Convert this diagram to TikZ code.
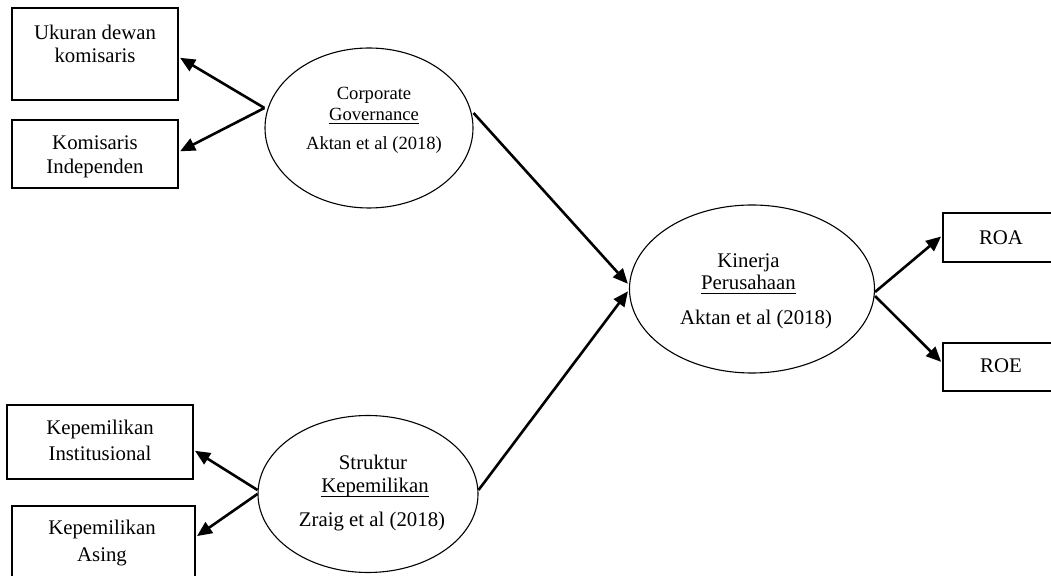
\documentclass[tikz,border=0pt]{standalone}
\usepackage{fontspec}
\setmainfont{Liberation Serif}
\usetikzlibrary{shapes.geometric,arrows.meta}
\begin{document}
\begin{tikzpicture}[x=0.5pt,y=-0.5pt,
  boxnode/.style={draw,line width=0.7pt,rectangle,inner sep=0pt},
  ovalnode/.style={draw,line width=0.55pt,ellipse,inner sep=0pt},
  txt/.style={anchor=base,inner sep=0pt,font=\fontsize{10.4}{12.5}\selectfont},
  smalltxt/.style={anchor=base,inner sep=0pt,font=\fontsize{9.3}{11}\selectfont},
  uline/.style={line width=0.5pt},
  arr/.style={line width=1.3pt,-{Triangle[length=7.5pt,width=6.5pt]},shorten >=0.8pt}]
\useasboundingbox (0,0) rectangle (1051,576);
\clip (0,0) rectangle (1051,576);
% boxes
\node[boxnode,minimum width=83pt,minimum height=46pt] (b1) at (95,54) {};
\node[boxnode,minimum width=83pt,minimum height=34pt] (b2) at (95,154) {};
\node[boxnode,minimum width=93pt,minimum height=37pt] (b3) at (100,442) {};
\node[boxnode,minimum width=91.5pt,minimum height=47pt] (b4) at (103.5,553) {};
\node[boxnode,minimum width=68.5pt,minimum height=24.5pt] (roa) at (1011.5,237.5) {};
\node[boxnode,minimum width=68.5pt,minimum height=24pt] (roe) at (1011.5,367) {};
% ellipses
\node[ovalnode,minimum width=104pt,minimum height=80pt] (cg) at (369,128) {};
\node[ovalnode,minimum width=110pt,minimum height=78.5pt] (sk) at (368,494) {};
\node[ovalnode,minimum width=122.5pt,minimum height=84pt] (kp) at (752,289) {};
% texts
\node[txt] (t1a) at (95,40) {Ukuran dewan};
\node[txt] (t1b) at (95,63) {komisaris};
\node[txt] (t2a) at (95,150) {Komisaris};
\node[txt] (t2b) at (95,174) {Independen};
\node[txt] (t3a) at (100,435) {Kepemilikan};
\node[txt] (t3b) at (100,461) {Institusional};
\node[txt] (t4a) at (102,535) {Kepemilikan};
\node[txt] (t4b) at (102,562) {Asing};
\node[smalltxt] (tcga) at (374,100) {Corporate};
\node[smalltxt] (tcgb) at (374,121) {Governance};
\node[smalltxt] (tcgc) at (374,150) {Aktan et al (2018)};
\node[txt] (tska) at (373,470) {Struktur};
\node[txt] (tskb) at (375,493) {Kepemilikan};
\node[txt] (tskc) at (372,527) {Zraig et al (2018)};
\node[txt] (tkpa) at (748.5,268) {Kinerja};
\node[txt] (tkpb) at (748.5,290) {Perusahaan};
\node[txt] (tkpc) at (756,325) {Aktan et al (2018)};
\node[txt] (troa) at (1001,245) {ROA};
\node[txt] (troe) at (1001,373) {ROE};
% underlines
\draw[uline] ([yshift=-1.4pt]tcgb.base west) -- ([yshift=-1.4pt]tcgb.base east);
\draw[uline] ([yshift=-1.6pt]tskb.base west) -- ([yshift=-1.6pt]tskb.base east);
\draw[uline] ([yshift=-1.6pt]tkpb.base west) -- ([yshift=-1.6pt]tkpb.base east);
% connectors
\draw[arr] ([yshift=10pt]cg.west) -- ([yshift=-1.5pt]b1.east);
\draw[arr] ([yshift=10pt]cg.west) -- ([yshift=1pt]b2.east);
\draw[arr] ([yshift=2pt]sk.west) -- ([yshift=-4pt]b3.east);
\draw[arr] ([yshift=0pt]sk.west) -- ([yshift=8pt]b4.east);
\draw[arr] ([yshift=7.5pt]cg.east) -- ([yshift=2pt]kp.west);
\draw[arr] ([yshift=2pt]sk.east) -- ([yshift=-0.5pt]kp.west);
\draw[arr] ([yshift=-1.5pt]kp.east) -- ([yshift=1pt]roa.west);
\draw[arr] ([yshift=-3.5pt]kp.east) -- ([yshift=2pt]roe.west);
\end{tikzpicture}
\end{document}
